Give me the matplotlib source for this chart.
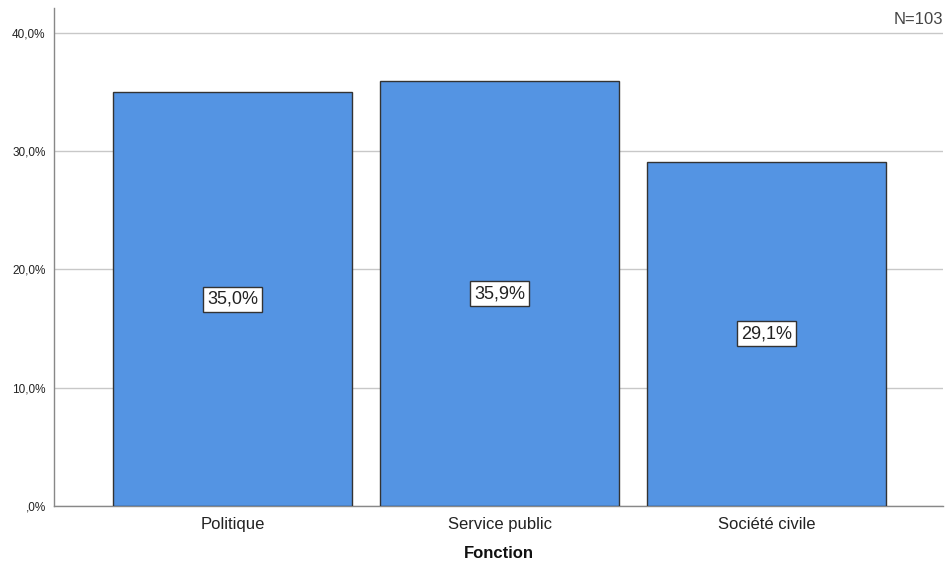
import matplotlib
matplotlib.use("Agg")
import matplotlib.pyplot as plt

categories = ["Politique", "Service public", "Société civile"]
values = [35.0, 35.9, 29.1]
yticks = [0, 10, 20, 30, 40]
ytick_labels = [",0%", "10,0%", "20,0%", "30,0%", "40,0%"]
value_labels = ["35,0%", "35,9%", "29,1%"]

plt.rcParams['font.family'] = ['Liberation Sans', 'DejaVu Sans']

fig = plt.figure(figsize=(9.47, 5.76), dpi=100)
ax = fig.add_axes([54/947, 1-506/576, (943-54)/947, (506-8)/576])

x = list(range(len(categories)))
ax.bar(x, values, width=0.895, color="#5494E3", edgecolor="#333333", linewidth=1.0, zorder=3)

for xi, v, lab in zip(x, values, value_labels):
    ax.text(xi, v/2, lab, ha="center", va="center", fontsize=13, color="#222222", zorder=4,
            bbox=dict(boxstyle="square,pad=0.22", facecolor="white", edgecolor="#333333", linewidth=1.0))

ax.set_xlim(-0.6685, 2.661)
ax.set_ylim(0, 42.11)
ax.set_yticks(yticks)
ax.set_yticklabels(ytick_labels, fontsize=8.5, color="#222222")
ax.set_xticks(x)
ax.set_xticklabels(categories, fontsize=12, color="#222222")
ax.tick_params(axis="both", length=0)
ax.tick_params(axis="y", pad=6)
ax.tick_params(axis="x", pad=8)
ax.yaxis.grid(True, color="#c8c8c8", linewidth=1.0, zorder=0)
ax.set_axisbelow(True)
for s in ["top", "right"]:
    ax.spines[s].set_visible(False)
ax.spines["left"].set_color("#888888")
ax.spines["bottom"].set_color("#888888")
ax.spines["left"].set_linewidth(1.0)
ax.spines["bottom"].set_linewidth(1.0)

ax.set_xlabel("Fonction", fontsize=12, fontweight="bold", color="#111111", labelpad=10)
ax.text(1.0, 1.0 - 4/498, "N=103", transform=ax.transAxes, ha="right", va="top", fontsize=12, color="#444444")

fig.savefig("out.png", dpi=100)
